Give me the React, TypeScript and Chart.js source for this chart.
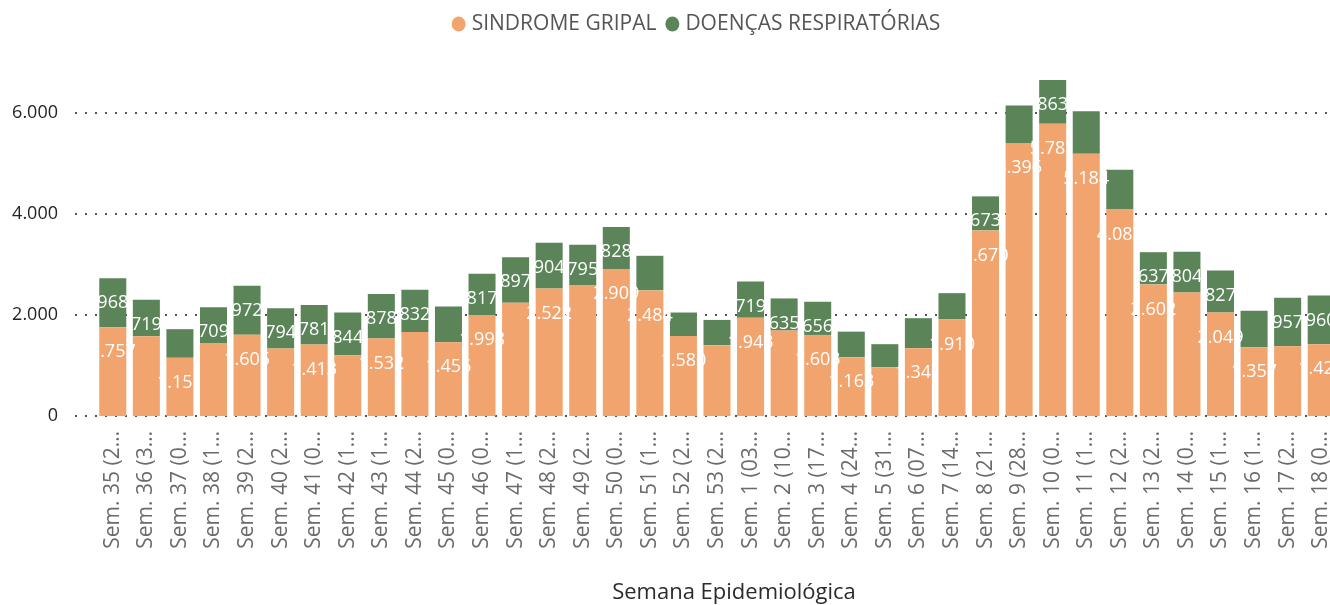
import React, { useEffect, useRef } from 'react';
import { Chart, registerables } from 'chart.js';

Chart.register(...registerables);

const weeks = [
  'Sem. 35 (2…', 'Sem. 36 (3…', 'Sem. 37 (0…', 'Sem. 38 (1…', 'Sem. 39 (2…', 'Sem. 40 (2…',
  'Sem. 41 (0…', 'Sem. 42 (1…', 'Sem. 43 (1…', 'Sem. 44 (2…', 'Sem. 45 (0…', 'Sem. 46 (0…',
  'Sem. 47 (1…', 'Sem. 48 (2…', 'Sem. 49 (2…', 'Sem. 50 (0…', 'Sem. 51 (1…', 'Sem. 52 (2…',
  'Sem. 53 (2…', 'Sem. 1 (03…', 'Sem. 2 (10…', 'Sem. 3 (17…', 'Sem. 4 (24…', 'Sem. 5 (31…',
  'Sem. 6 (07…', 'Sem. 7 (14…', 'Sem. 8 (21…', 'Sem. 9 (28…', 'Sem. 10 (0…', 'Sem. 11 (1…',
  'Sem. 12 (2…', 'Sem. 13 (2…', 'Sem. 14 (0…', 'Sem. 15 (1…', 'Sem. 16 (1…', 'Sem. 17 (2…',
  'Sem. 18 (0…',
];

const sindromeGripal = [
  1757, 1578, 1151, 1443, 1605, 1335, 1413, 1202, 1532, 1663, 1456, 1998, 2240, 2522, 2590, 2909, 2484, 1580, 1400,
  1943, 1690, 1603, 1163, 965, 1341, 1910, 3670, 5396, 5781, 5184, 4083, 2602, 2444, 2049, 1357, 1380, 1421,
];

const doencasRespiratorias = [
  968, 719, 566, 709, 972, 794, 781, 844, 878, 832, 709, 817, 897, 904, 795, 828, 684, 466, 500,
  719, 635, 656, 505, 455, 593, 519, 673, 743, 863, 842, 788, 637, 804, 827, 722, 957, 960,
];

// 1 = data label shown in the reference, 0 = hidden (overlap)
const sgLabelShown = [
  1, 0, 1, 0, 1, 0, 1, 0, 1, 0, 1, 1, 0, 1, 0, 1, 1, 1, 0,
  1, 0, 1, 1, 0, 1, 1, 1, 1, 1, 1, 1, 1, 0, 1, 1, 0, 1,
];
const drLabelShown = [
  1, 1, 0, 1, 1, 1, 1, 1, 1, 1, 0, 1, 1, 1, 1, 1, 0, 0, 0,
  1, 1, 1, 0, 0, 0, 0, 1, 0, 1, 0, 0, 1, 1, 1, 0, 1, 1,
];

const seriesNames = ['SINDROME GRIPAL', 'DOENÇAS RESPIRATÓRIAS'];
const yTickValues = [0, 2000, 4000, 6000];
const yMax = 7000;
const xTitle = 'Semana Epidemiológica';

const FONT = "'Open Sans', 'Noto Sans', sans-serif";
const ORANGE = '#F2A46E';
const GREEN = '#5B8459';

const fmt = (v: number) => String(Math.round(v)).replace(/\B(?=(\d{3})+(?!\d))/g, '.');

const decorPlugin = {
  id: 'decor',
  beforeDatasetsDraw(chart: any) {
    const { ctx, chartArea, scales } = chart;
    ctx.save();
    ctx.strokeStyle = '#555555';
    ctx.lineWidth = 2;
    ctx.setLineDash([2, 8]);
    yTickValues.forEach((v) => {
      const y = Math.round(scales.y.getPixelForValue(v));
      ctx.beginPath();
      ctx.moveTo(chartArea.left - 21, y);
      ctx.lineTo(chart.width, y);
      ctx.stroke();
    });
    ctx.restore();
  },
  afterDatasetsDraw(chart: any) {
    const { ctx } = chart;
    const shown = [sgLabelShown, drLabelShown];
    ctx.save();
    ctx.font = `18px ${FONT}`;
    ctx.fillStyle = '#ffffff';
    ctx.textAlign = 'center';
    ctx.textBaseline = 'middle';
    chart.data.datasets.forEach((ds: any, i: number) => {
      const meta = chart.getDatasetMeta(i);
      meta.data.forEach((el: any, j: number) => {
        if (!shown[i][j]) return;
        ctx.fillText(fmt(ds.data[j]), el.x, el.y + 25);
      });
    });
    ctx.restore();
  },
  afterDraw(chart: any) {
    const { ctx, chartArea } = chart;
    ctx.save();
    // legend
    ctx.font = `21px ${FONT}`;
    ctx.textBaseline = 'middle';
    ctx.textAlign = 'left';
    const r = 7;
    const gapText = 6;
    const gapItem = 9;
    const items = chart.data.datasets.map((ds: any) => ({
      label: ds.label,
      color: ds.backgroundColor,
      w: ctx.measureText(ds.label).width,
    }));
    const total = items.reduce((s: number, it: any) => s + 2 * r + gapText + it.w, 0) + gapItem * (items.length - 1);
    const center = (chartArea.left + chartArea.right) / 2 - 21;
    let x = center - total / 2;
    const y = 24;
    items.forEach((it: any) => {
      ctx.fillStyle = it.color;
      ctx.beginPath();
      ctx.ellipse(x + r, y, r, r + 0.5, 0, 0, Math.PI * 2);
      ctx.fill();
      x += 2 * r + gapText;
      ctx.fillStyle = '#555555';
      ctx.fillText(it.label, x, y);
      x += it.w + gapItem;
    });
    // x axis title
    ctx.font = `22px ${FONT}`;
    ctx.fillStyle = '#2b2b2b';
    ctx.textAlign = 'center';
    ctx.fillText(xTitle, (chartArea.left + chartArea.right) / 2 + 17, 593);
    ctx.restore();
  },
};

export default function App() {
  const ref = useRef<HTMLCanvasElement | null>(null);

  useEffect(() => {
    if (!ref.current) return;
    const chart = new Chart(ref.current, {
      type: 'bar',
      data: {
        labels: weeks,
        datasets: [
          {
            label: seriesNames[0],
            data: sindromeGripal,
            backgroundColor: ORANGE,
            borderWidth: 0,
            barPercentage: 0.805,
            categoryPercentage: 1,
          },
          {
            label: seriesNames[1],
            data: doencasRespiratorias,
            backgroundColor: GREEN,
            borderWidth: 0,
            barPercentage: 0.805,
            categoryPercentage: 1,
          },
        ],
      },
      options: {
        responsive: false,
        animation: false,
        devicePixelRatio: 1,
        layout: { padding: { top: 62, right: 2, left: 0, bottom: 0 } },
        plugins: {
          legend: { display: false },
          tooltip: { enabled: false },
          title: { display: false },
        },
        scales: {
          x: {
            stacked: true,
            grid: { display: false, drawTicks: false },
            border: { display: false },
            ticks: {
              autoSkip: false,
              maxRotation: 90,
              minRotation: 90,
              padding: 15,
              color: '#6b6b6b',
              font: { family: FONT, size: 21 },
            },
            afterFit: (s: any) => {
              s.height = 189;
              s.paddingLeft = 0;
              s.paddingRight = 0;
            },
          },
          y: {
            stacked: true,
            min: 0,
            max: yMax,
            afterBuildTicks: (s: any) => {
              s.ticks = yTickValues.map((v) => ({ value: v }));
            },
            grid: { display: false, drawTicks: false },
            border: { display: false },
            ticks: {
              padding: 38,
              color: '#252423',
              font: { family: FONT, size: 18 },
              callback: (v: any) => fmt(Number(v)),
            },
            afterFit: (s: any) => {
              s.width = 96;
              s.paddingTop = 0;
              s.paddingBottom = 0;
            },
          },
        },
      },
      plugins: [decorPlugin],
    });
    return () => chart.destroy();
  }, []);

  return (
    <div
      style={{
        position: 'fixed',
        left: 0,
        top: 0,
        width: 1330,
        height: 605,
        overflow: 'hidden',
        background: '#ffffff',
      }}
    >
      <canvas ref={ref} width={1340} height={605} style={{ display: 'block', width: 1340, height: 605 }} />
    </div>
  );
}
